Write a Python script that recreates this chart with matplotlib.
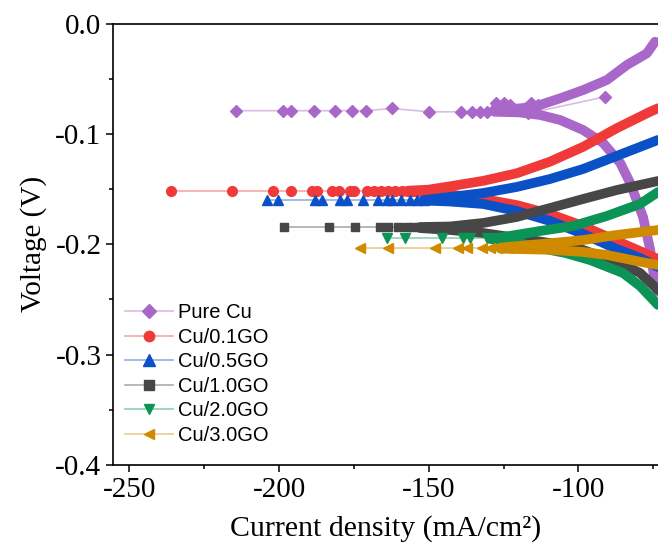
import matplotlib
matplotlib.use("Agg")
import matplotlib.pyplot as plt
from matplotlib.lines import Line2D
from matplotlib.colors import to_rgba

plt.rcParams['axes.unicode_minus'] = False
plt.rcParams['font.family'] = ['Liberation Serif', 'DejaVu Serif']

labels = ['Pure Cu', 'Cu/0.1GO', 'Cu/0.5GO', 'Cu/1.0GO', 'Cu/2.0GO', 'Cu/3.0GO']
colors = ['#a968c9', '#f03a3a', '#0a50c6', '#474747', '#0b9455', '#cf8a00']
markers = ['D', 'o', '^', 's', 'v', '<']
msizes = [6.5, 7, 7.5, 6, 7, 7]

# sparse points on the left (current density, voltage)
pure_x = [-214.4, -198.5, -196.1, -188.3, -181.3, -175.5, -170.9, -162.3, -149.9,
          -139.2, -135.6, -132.8, -130.5, -127.5, -124.7, -123.0, -115.8, -113.5, -116.8, -91.1]
pure_y = [-0.079, -0.079, -0.079, -0.079, -0.079, -0.079, -0.079, -0.077, -0.080,
          -0.080, -0.080, -0.080, -0.080, -0.072, -0.072, -0.0735, -0.072, -0.0735, -0.0815, -0.0664]
r01_x = [-236.2, -215.8, -201.9, -196.1, -189.1, -187.2, -182.4, -179.8, -176.3, -174.9,
         -170.7, -168.2, -165.9, -163.6, -161.2, -158.9, -157.0, -155.3]
r01_y = [-0.1515] * 18
r05_x = [-203.9, -200.2, -188.0, -185.7, -179.6, -177.4, -171.8, -166.8, -163.8,
         -162.3, -159.3, -156.3, -154.0, -151.6]
r05_y = [-0.160] * 14
r10_x = [-198.3, -183.3, -174.6, -166.4, -163.5, -160.1, -157.3, -155.1]
r10_y = [-0.1844] * 8
r20_x = [-164.0, -157.9, -145.6, -138.4, -136.2, -130.6]
r20_y = [-0.1946] * 6
r30_x = [-172.9, -163.5, -147.9, -140.1, -137.1, -132.3, -129.5, -127.2, -123.9,
         -120.6, -117.8, -115.0]
r30_y = [-0.2034] * 9 + [-0.2025, -0.2015, -0.2010]

# dense branches (upper / lower)
pure_up_x = [-128, -120, -112.8, -106.1, -98.3, -90.5, -83.8, -77.1, -74.4]
pure_up_y = [-0.078, -0.0775, -0.0738, -0.0678, -0.0602, -0.0512, -0.0376, -0.027, -0.0165]
pure_lo_x = [-128, -120, -112.8, -106.1, -98.4, -91.7, -86.0, -82.7, -78.4, -76.0, -74.4, -73.7]
pure_lo_y = [-0.080, -0.0805, -0.0829, -0.0874, -0.0965, -0.1083, -0.1264, -0.1445,
             -0.1753, -0.2052, -0.2351, -0.243]
r01_up_x = [-157, -150, -142.9, -131.7, -120.6, -109.5, -98.3, -87.2, -76.0, -73.4]
r01_up_y = [-0.1515, -0.1505, -0.1475, -0.1425, -0.1357, -0.1252, -0.1116, -0.0949, -0.0799, -0.0768]
r01_lo_x = [-157, -145, -131.8, -120.6, -109.5, -98.4, -87.2, -79.4, -73.4]
r01_lo_y = [-0.1525, -0.154, -0.159, -0.1645, -0.1726, -0.1835, -0.197, -0.2062, -0.2134]
r05_up_x = [-151.6, -142.85, -131.8, -120.6, -109.5, -98.4, -87.2, -73.4]
r05_up_y = [-0.1599, -0.1572, -0.1536, -0.1481, -0.1409, -0.1318, -0.1200, -0.1055]
r05_lo_x = [-151.6, -142.85, -131.8, -120.6, -109.5, -98.4, -87.2, -79.4, -73.4]
r05_lo_y = [-0.1604, -0.1613, -0.1635, -0.1699, -0.1789, -0.1907, -0.2043, -0.2125, -0.2206]
r10_up_x = [-153, -142.85, -131.8, -120.6, -109.5, -98.4, -87.2, -73.4]
r10_up_y = [-0.1844, -0.1839, -0.1807, -0.1753, -0.1672, -0.159, -0.1509, -0.1427]
r10_lo_x = [-153, -142.85, -131.8, -120.6, -109.5, -98.4, -87.2, -79.4, -73.4]
r10_lo_y = [-0.1853, -0.1871, -0.1898, -0.1943, -0.1989, -0.2052, -0.2161, -0.226, -0.2414]
r20_up_x = [-129.5, -126.2, -112.8, -101.8, -90.5, -79.4, -73.4]
r20_up_y = [-0.1943, -0.1939, -0.188, -0.1835, -0.1744, -0.1635, -0.1527]
r20_lo_x = [-129.5, -121.1, -112.8, -104.4, -96.1, -85.1, -79.4, -73.4]
r20_lo_y = [-0.1952, -0.198, -0.2034, -0.2079, -0.2143, -0.226, -0.2378, -0.255]
r30_up_x = [-126, -109.5, -98.4, -87.2, -73.4]
r30_up_y = [-0.2030, -0.1991, -0.1962, -0.1916, -0.1871]
r30_lo_x = [-126, -109.5, -98.4, -90.5, -79.4, -73.4]
r30_lo_y = [-0.2040, -0.2050, -0.2070, -0.2097, -0.2158, -0.2188]

sparse = [(pure_x, pure_y), (r01_x, r01_y), (r05_x, r05_y),
          (r10_x, r10_y), (r20_x, r20_y), (r30_x, r30_y)]
upper = [(pure_up_x, pure_up_y), (r01_up_x, r01_up_y), (r05_up_x, r05_up_y),
         (r10_up_x, r10_up_y), (r20_up_x, r20_up_y), (r30_up_x, r30_up_y)]
lower = [(pure_lo_x, pure_lo_y), (r01_lo_x, r01_lo_y), (r05_lo_x, r05_lo_y),
         (r10_lo_x, r10_lo_y), (r20_lo_x, r20_lo_y), (r30_lo_x, r30_lo_y)]

fig = plt.figure(figsize=(6.58, 5.45), dpi=100)
ax = fig.add_axes([113.3 / 658, 80 / 545, 1 - 113.3 / 658, 441.5 / 545])

handles = []
for i in range(6):
    c = colors[i]
    sx, sy = sparse[i]
    ax.plot(sx, sy, '-', color=c, alpha=0.45, lw=1.2)
    ax.plot(sx, sy, ls='none', marker=markers[i], ms=msizes[i], mfc=c, mec=c)
    for bx, by in (upper[i], lower[i]):
        ax.plot(bx, by, '-', color=c, lw=7, solid_capstyle='round', solid_joinstyle='round')
    # legend entry: light line, solid marker
    handles.append(Line2D([0], [0], color=to_rgba(c, 0.45), lw=1.2, marker=markers[i],
                          ms=msizes[i] + 0.5, mfc=c, mec=c))

ax.set_xlim(-255.35, -73.4)
ax.set_ylim(-0.4, 0.0)
ax.set_xticks([-250, -200, -150, -100])
ax.set_xticks([-225, -175, -125, -75], minor=True)
ax.set_yticks([-0.4, -0.3, -0.2, -0.1, 0.0])
ax.set_yticks([-0.35, -0.25, -0.15, -0.05], minor=True)
ax.set_yticklabels(['-0.4', '-0.3', '-0.2', '-0.1', '0.0'])
ax.tick_params(which='major', direction='out', length=5, width=1.1, labelsize=21)
ax.tick_params(which='minor', direction='out', length=3, width=1.1)
ax.spines['right'].set_visible(False)
for s in ['left', 'bottom', 'top']:
    ax.spines[s].set_linewidth(1.2)

ax.set_xlabel('Current density (mA/cm²)', fontsize=21.5, labelpad=9)
ax.set_ylabel('Voltage (V)', fontsize=21, labelpad=6)

ax.legend(handles, labels, loc='lower left', bbox_to_anchor=(0.0215, 0.045),
          frameon=False, borderpad=0, borderaxespad=0, handlelength=2.4,
          handletextpad=0.25, labelspacing=0.28,
          prop={'family': 'Liberation Sans', 'size': 14.5})

fig.savefig('out.png', dpi=100)
